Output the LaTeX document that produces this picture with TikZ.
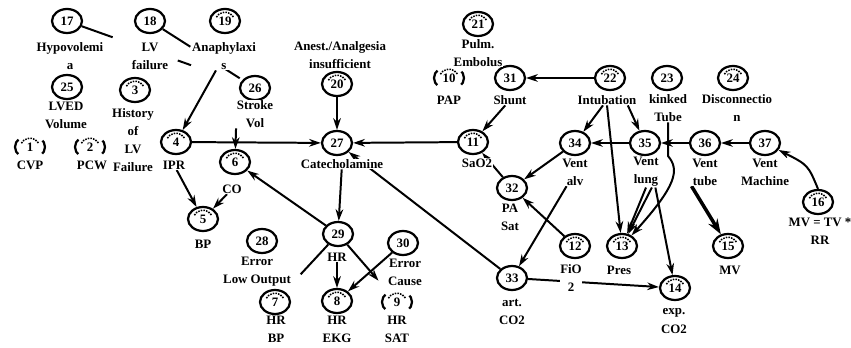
\documentclass[tikz,border=0pt]{standalone}
\usepackage{fontspec}
\setmainfont{Liberation Serif}
\usetikzlibrary{shapes.geometric,arrows.meta,backgrounds}

\tikzset{
    var/.style={draw, ellipse, line width=1.9pt, minimum width=0.9cm, minimum height=0.72cm,
        inner sep=0pt, fill=white, font=\bfseries\fontsize{11}{13}\selectfont},
    obs/.style={var, path picture={\draw[densely dotted, line width=1.3pt]
        ([yshift=-1pt]path picture bounding box.center) ++(150:8.5pt) arc (150:30:8.5pt);}},
    part/.style={obs, dash pattern=on 6pt off 23pt on 14pt off 23pt on 8pt},
    lbl/.style={align=center, inner sep=0.5pt, fill=white, font=\bfseries\fontsize{11}{15.5}\selectfont},
    edge/.style={line width=1.7pt, -{Stealth[length=10pt,width=6.5pt]}},
    link/.style={line width=1.7pt},
}

\begin{document}
\begin{tikzpicture}[x=0.03cm, y=-0.03cm]
    \useasboundingbox (0, 0) rectangle (851, 348);

    % variables
    \node[var] (n17) at (67, 21) {17};
    \node[var] (n18) at (150, 21) {18};
    \node[obs] (n19) at (225, 21) {19};
    \node[var] (n25) at (67, 87) {25};
    \node[obs] (n3) at (135, 90) {3};
    \node[var] (n26) at (255, 88) {26};
    \node[part] (n1) at (30, 147) {1};
    \node[part] (n2) at (90, 147) {2};
    \node[obs] (n4) at (176, 142) {4};
    \node[obs] (n6) at (235, 162) {6};
    \node[obs] (n5) at (203, 219) {5};
    \node[obs] (n20) at (337, 84) {20};
    \node[var] (n27) at (337, 143) {27};
    \node[obs] (n21) at (478, 24) {21};
    \node[part] (n10) at (449, 78) {10};
    \node[var] (n31) at (510, 78) {31};
    \node[obs] (n22) at (610, 78) {22};
    \node[var] (n23) at (667, 78) {23};
    \node[obs] (n24) at (733, 78) {24};
    \node[obs] (n11) at (473, 142) {11};
    \node[var] (n34) at (575, 143) {34};
    \node[var] (n35) at (645, 143) {35};
    \node[var] (n36) at (705, 143) {36};
    \node[var] (n37) at (765, 143) {37};
    \node[var] (n32) at (512, 188) {32};
    \node[obs] (n16) at (818, 202) {16};
    \node[var] (n29) at (338, 234) {29};
    \node[var] (n28) at (262, 241) {28};
    \node[var] (n30) at (403, 243) {30};
    \node[obs] (n7) at (275, 302) {7};
    \node[obs] (n8) at (337, 301) {8};
    \node[part] (n9) at (397, 302) {9};
    \node[obs] (n12) at (575, 246) {12};
    \node[obs] (n13) at (622, 246) {13};
    \node[obs] (n15) at (728, 246) {15};
    \node[var] (n33) at (512, 278) {33};
    \node[obs] (n14) at (675, 288) {14};

    % names
    \node[lbl] (l17) at (70, 56) {Hypovolemi\\a};
    \node[lbl] (l18) at (150, 56) {LV\\failure};
    \node[lbl] (l19) at (224, 56) {Anaphylaxi\\s};
    \node[lbl] (l25) at (66, 115) {LVED\\Volume};
    \node[lbl] (l3) at (133, 140) {History\\of\\LV\\Failure};
    \node[lbl] (l26) at (255, 114) {Stroke\\Vol};
    \node[lbl] (l1) at (30, 165) {CVP};
    \node[lbl] (l2) at (92, 165) {PCW};
    \node[lbl] (l4) at (174, 165) {IPR};
    \node[lbl] (l6) at (232, 189) {CO};
    \node[lbl] (l5) at (203, 244) {BP};
    \node[lbl] (l20) at (340, 55) {Anest./Analgesia\\insufficient};
    \node[lbl] (l27) at (342, 164) {Catecholamine};
    \node[lbl] (l21) at (478, 53) {Pulm.\\Embolus};
    \node[lbl] (l10) at (449, 100) {PAP};
    \node[lbl] (l31) at (510, 100) {Shunt};
    \node[lbl] (l22) at (607, 100) {Intubation};
    \node[lbl] (l23) at (668, 108) {kinked\\Tube};
    \node[lbl] (l24) at (737, 108) {Disconnectio\\n};
    \node[lbl] (l11) at (477, 163) {SaO2};
    \node[lbl] (l34) at (575, 172) {Vent\\alv};
    \node[lbl] (l35) at (646, 172) {Vent\\lung};
    \node[lbl] (l36) at (705, 172) {Vent\\tube};
    \node[lbl] (l37) at (765, 172) {Vent\\Machine};
    \node[lbl] (l32) at (510, 217) {PA\\Sat};
    \node[lbl] (l16) at (820, 231) {MV = TV *\\RR};
    \node[lbl] (l29) at (337, 257) {HR};
    \node[lbl] (l28) at (257, 272) {Error\\Low Output};
    \node[lbl] (l30) at (405, 272) {Error\\Cause};
    \node[lbl] (l7) at (276, 329) {HR\\BP};
    \node[lbl] (l8) at (337, 329) {HR\\EKG};
    \node[lbl] (l9) at (397, 329) {HR\\SAT};
    \node[lbl] (l12) at (571, 278) {FiO\\2};
    \node[lbl] (l13) at (619, 270) {Pres};
    \node[lbl] (l15) at (730, 270) {MV};
    \node[lbl] (l33) at (512, 312) {art.\\CO2};
    \node[lbl] (l14) at (674, 321) {exp.\\CO2};

    % arcs, kept behind the names
    \begin{scope}[on background layer]
        \draw[link, dash pattern=on 28pt off 59pt on 12pt off 100pt] (n17) -- (n26);
        \draw[link, dash pattern=on 28pt off 32pt on 18pt off 60pt] (n18) -- (n26);
        \draw[edge] (l19) -- (n4);
        \draw[edge] (n4) -- (n27);
        \draw[edge] (l26.south west) -- (n6);
        \draw[edge] (l4) -- (n5);
        \draw[edge] (l6) -- (n5);
        \draw[edge] (n29) -- (n6);
        \draw[edge] (n20) -- (n27);
        \draw[edge] (n11) -- (n27);
        \draw[edge] (n33) -- (n27);
        \draw[edge] (l27) -- (n29);
        \draw[edge] (l29) -- (n8);
        \draw[link, shorten >=20pt] (n29) -- (n7);
        \draw[edge, shorten >=12pt] (n29) -- (n9);
        \draw[edge] (n30) -- (n8);
        \draw[edge] (n22) -- (n31);
        \draw[edge] (l31) -- (n11);
        \draw[edge] (n32) -- (n11);
        \draw[edge] (n34) -- (n32);
        \draw[edge] (n12) -- (n32);
        \draw[edge] (l34) -- (n33);
        \draw[edge] (n33) -- (n14);
        \draw[edge] (n35) -- (n34);
        \draw[edge] (n36) -- (n35);
        \draw[edge] (n37) -- (n36);
        \draw[edge] (l22) -- (n34);
        \draw[edge] ([xshift=-8pt]l22.south east) -- (n35);
        \draw[edge] (l22.south) -- (n13);
        \draw[edge] (l23.south) -- (668, 156) .. controls (680, 170) and (676, 186) .. (n13);
        \draw[edge] (l35.south) -- (n13);
        \draw[edge] ([xshift=5pt]l35.south) -- (n13);
        \draw[edge] ([xshift=8pt]l35.south) -- (n14);
        \draw[line width=3pt, -{Stealth[length=13pt,width=9pt]}] (l36.south west) -- (n15);
        \draw[edge] (n16.north) .. controls (808, 165) .. (n37);
    \end{scope}
\end{tikzpicture}
\end{document}
